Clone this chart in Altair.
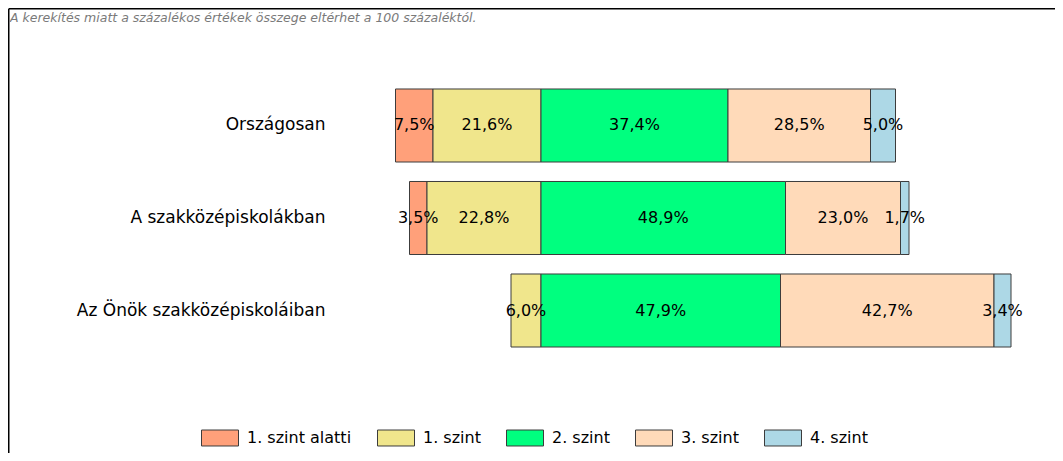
import altair as alt
import pandas as pd

rows = ["Országosan", "A szakközépiskolákban", "Az Önök szakközépiskoláiban"]
levels = ["1. szint alatti", "1. szint", "2. szint", "3. szint", "4. szint"]
colors = ["#FFA07A", "#F0E68C", "#00FF7F", "#FFDAB9", "#ADD8E6"]
v_below1 = [7.5, 3.5, 0.0]
v_l1 = [21.6, 22.8, 6.0]
v_l2 = [37.4, 48.9, 47.9]
v_l3 = [28.5, 23.0, 42.7]
v_l4 = [5.0, 1.7, 3.4]
note = "A kerekítés miatt a  százalékos értékek összege eltérhet a 100 százaléktól."

series = [v_below1, v_l1, v_l2, v_l3, v_l4]
recs = []
for i, r in enumerate(rows):
    start = -(v_below1[i] + v_l1[i])
    cur = start
    for j, lev in enumerate(levels):
        v = series[j][i]
        if v > 0:
            recs.append({
                "row": r, "level": lev, "x": cur, "x2": cur + v,
                "mid": cur + v / 2,
                "label": f"{v:.1f}".replace(".", ",") + "%",
            })
        cur += v
df = pd.DataFrame(recs)

FONT = "DejaVu Sans"

yenc = alt.Y("row:N", sort=rows,
             scale=alt.Scale(paddingInner=0.2108, paddingOuter=0.3135),
             axis=alt.Axis(title=None, ticks=False, domain=False, labelFontSize=17,
                           labelFont=FONT, labelColor="black", labelPadding=16,
                           labelLimit=400))
xscale = alt.Scale(domain=[-40, 100], nice=False, zero=False)

bars = alt.Chart(df).mark_bar(stroke="#3c3c3c", strokeWidth=1, opacity=1).encode(
    y=yenc,
    x=alt.X("x:Q", scale=xscale, axis=None),
    x2="x2:Q",
    color=alt.Color("level:N", sort=levels,
                    scale=alt.Scale(domain=levels, range=colors),
                    legend=alt.Legend(title=None, orient="none", legendX=-140, legendY=359,
                                      direction="horizontal",
                                      symbolType="M-1,-0.432L1,-0.432L1,0.432L-1,0.432Z",
                                      symbolSize=1369, symbolStrokeColor="#3c3c3c",
                                      symbolStrokeWidth=1, symbolOpacity=1,
                                      labelFont=FONT, labelFontSize=16, labelColor="black",
                                      labelOffset=8, columnPadding=23, padding=0)),
)

labels = alt.Chart(df).mark_text(font=FONT, fontSize=16, color="black", baseline="middle").encode(
    y=alt.Y("row:N", sort=rows),
    x=alt.X("mid:Q", scale=xscale, axis=None),
    text="label:N",
)

one = pd.DataFrame({"t": [note]})
top_line = alt.Chart(one).mark_rule(color="black", strokeWidth=1.5).encode(
    x=alt.value(-332.25), x2=alt.value(714), y=alt.value(-51.25))
left_line = alt.Chart(one).mark_rule(color="black", strokeWidth=1.5).encode(
    x=alt.value(-332.25), y=alt.value(-51.25), y2=alt.value(393))
note_text = alt.Chart(one).mark_text(align="left", baseline="alphabetic", font=FONT,
                                     fontSize=12.5, fontStyle="italic", color="#7a7a7a").encode(
    x=alt.value(-331), y=alt.value(-38), text="t:N")

chart = alt.layer(bars, labels, top_line, left_line, note_text).properties(
    width=700, height=316,
    autosize=alt.AutoSizeParams(type="none"),
    padding={"left": 333, "top": 52, "right": 14, "bottom": 77},
).configure_view(stroke=None)

chart.save("out.html", embed_options={"renderer": "svg", "actions": False})
